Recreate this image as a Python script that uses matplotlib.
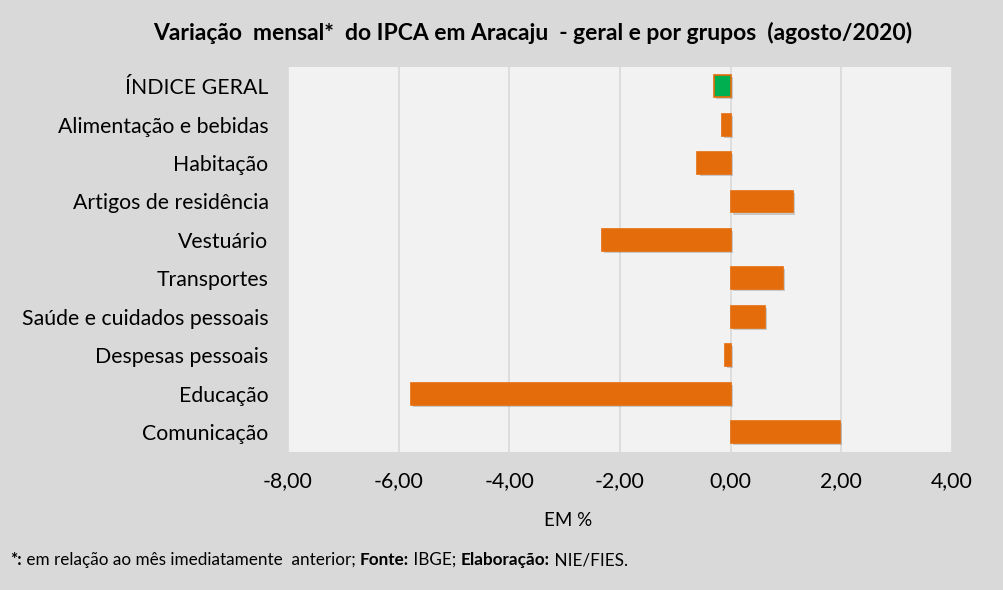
import matplotlib
matplotlib.use("Agg")
import matplotlib.pyplot as plt
import matplotlib.patheffects as pe
from matplotlib.ticker import FuncFormatter

plt.rcParams['font.family'] = ['Lato', 'DejaVu Sans']

categorias = ['ÍNDICE GERAL', 'Alimentação e bebidas', 'Habitação',
              'Artigos de residência', 'Vestuário', 'Transportes',
              'Saúde e cuidados pessoais', 'Despesas pessoais', 'Educação',
              'Comunicação']
variacao = [-0.30, -0.16, -0.60, 1.12, -2.32, 0.94, 0.62, -0.11, -5.77, 1.97]
cores = ['#00B050'] + ['#E46C0A'] * 9
xticks = [-8, -6, -4, -2, 0, 2, 4]

W, H = 1004, 590
fig = plt.figure(figsize=(W / 100, H / 100), dpi=100)
fig.patch.set_facecolor('#d9d9d9')

ax = fig.add_axes([288 / W, (H - 452) / H, 664 / W, (452 - 67) / H])
ax.set_facecolor('#f2f2f2')

y = range(len(categorias))
bars = ax.barh(y, variacao, height=0.57, color=cores, edgecolor='#E46C0A',
               linewidth=1.2, zorder=3)
for b in bars:
    b.set_path_effects([pe.SimplePatchShadow(offset=(1.5, -1.5), shadow_rgbFace='#777777', alpha=0.35),
                        pe.Normal()])

ax.set_xlim(-8, 4)
ax.set_ylim(9.52, -0.5)
ax.set_xticks(xticks)
ax.xaxis.set_major_formatter(FuncFormatter(lambda v, p: f'{v:.2f}'.replace('.', ',')))
ax.set_yticks(list(y))
ax.set_yticklabels(categorias)
ax.tick_params(axis='both', length=0, labelsize=15.3, colors='#000000')
ax.tick_params(axis='y', pad=14)
ax.tick_params(axis='x', pad=14)
ax.grid(axis='x', color='#d9d9d9', linewidth=1.2, zorder=0)
ax.set_axisbelow(True)
for s in ax.spines.values():
    s.set_visible(False)

fig.text(533 / W, 1 - 33 / H, 'Variação  mensal*  do IPCA em Aracaju  - geral e por grupos  (agosto/2020)',
         ha='center', va='center', fontsize=16.5, fontweight='bold')
fig.text(568 / W, 1 - 521 / H, 'EM %', ha='center', va='center', fontsize=13.5)

# nota de rodape com partes em negrito
partes = [('*:', 'bold'), (' em relação ao mês imediatamente  anterior; ', 'normal'),
          ('Fonte:', 'bold'), (' IBGE; ', 'normal'), ('Elaboração:', 'bold'),
          (' NIE/FIES.', 'normal')]
fig.canvas.draw()
renderer = fig.canvas.get_renderer()
x0 = 10
for txt, peso in partes:
    t = fig.text(x0 / W, 1 - 560 / H, txt, ha='left', va='center', fontsize=12.3, fontweight=peso)
    bb = t.get_window_extent(renderer)
    x0 += bb.width

fig.savefig('out.png', dpi=100, facecolor=fig.get_facecolor())
